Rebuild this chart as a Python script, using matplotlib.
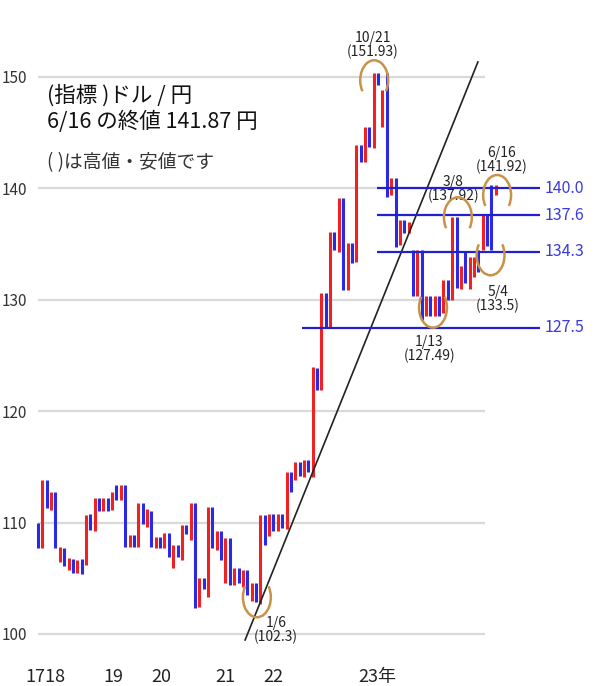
import matplotlib
matplotlib.use("Agg")
import matplotlib.pyplot as plt
from matplotlib.patches import Arc

plt.rcParams['font.family'] = ['Noto Sans CJK JP', 'DejaVu Sans']

# 新値足風のバー: 色 (r=陽, b=陰), 下端, 上端
bar_colors = ("brbrbrbrbrbrbrbrbrbrbrbrbrbrbrbrbrbrbrbrbrbrbrbrbrbrbrbrbrbrbrbrbrbrbrbrbrbrbrbrbrbrbrbrbrbrbrbrbrbrrbrb")
bar_lo = [107.7, 107.7, 111.3, 111.1, 107.7, 106.5, 106.1, 105.7, 105.5, 105.5,
          105.4, 106.2, 109.3, 109.2, 111.0, 111.0, 111.0, 111.1, 112.0, 112.0,
          107.8, 107.8, 107.8, 107.8, 109.9, 109.6, 107.8, 107.7, 107.7, 107.7,
          106.9, 105.9, 106.9, 106.6, 109.0, 108.4, 102.3, 102.4, 104.0, 103.3,
          107.7, 107.5, 106.6, 104.6, 104.4, 104.4, 104.6, 104.2, 103.5, 103.0,
          102.9, 102.7, 108.0, 108.8, 109.2, 109.2, 109.5, 109.4, 112.7, 113.8,
          114.2, 114.1, 114.5, 114.1, 121.9, 121.9, 127.5, 127.5, 134.5, 134.3,
          130.9, 130.9, 133.3, 133.4, 142.4, 142.4, 143.7, 143.6, 149.3, 145.5,
          139.2, 139.4, 134.7, 134.9, 136.0, 136.0, 130.3, 130.3, 128.2, 128.5,
          128.5, 128.5, 128.5, 128.8, 130.0, 130.0, 131.1, 131.0, 131.5, 131.0,
          132.0, 132.5, 134.5, 134.8, 134.5, 139.4]
bar_hi = [110.0, 113.8, 113.8, 112.7, 112.7, 107.8, 107.7, 106.8, 106.7, 106.6,
          106.7, 110.7, 110.8, 112.2, 112.2, 112.2, 112.2, 112.7, 113.4, 113.4,
          113.4, 108.9, 108.9, 111.8, 111.8, 111.2, 111.0, 108.7, 108.7, 109.1,
          109.1, 108.0, 108.0, 109.8, 109.8, 111.8, 111.8, 105.0, 105.0, 111.4,
          111.4, 109.2, 109.2, 108.6, 108.6, 105.9, 105.9, 105.7, 105.7, 104.6,
          104.6, 110.7, 110.7, 110.8, 110.8, 110.8, 110.8, 114.5, 114.5, 115.4,
          115.4, 115.6, 115.6, 124.0, 123.9, 130.6, 130.6, 136.1, 136.1, 139.1,
          139.1, 135.1, 135.1, 143.9, 143.9, 145.5, 145.5, 150.4, 150.4, 148.8,
          150.4, 140.9, 140.9, 137.2, 137.2, 137.0, 134.5, 134.5, 134.5, 130.3,
          130.3, 130.3, 130.3, 131.8, 131.8, 137.4, 137.4, 133.0, 134.4, 133.8,
          133.8, 134.5, 137.6, 137.6, 140.3, 140.3]

y_ticks = [100, 110, 120, 130, 140, 150]
year_labels = ["1718", "19", "20", "21", "22", "23年"]
year_pos = [1.8, 17.2, 28.2, 42.9, 53.9, 77.8]

# 水平線 (値, 開始位置)
level_values = [140.0, 137.6, 134.3, 127.5]
level_start = [77.8, 77.8, 77.8, 60.6]
level_end = 115.1

# トレンドライン
trend_x = [47.5, 100.9]
trend_y = [99.46, 151.35]

# 高値・安値の注記 (日付, 値, 位置)
note_dates = ["10/21", "3/8", "6/16", "5/4", "1/13", "1/6"]
note_vals = ["151.93", "137.92", "141.92", "133.5", "127.49", "102.3"]
note_x = [76.8, 95.2, 106.4, 105.5, 89.7, 54.6]
note_y = [152.9, 139.95, 142.55, 130.1, 125.6, 100.4]

# 丸印 (中心, 上向き/下向き)
arc_x = [77.1, 96.3, 105.3, 90.6, 103.8, 50.2]
arc_y = [149.7, 137.4, 139.4, 129.3, 134.0, 103.3]
arc_kind = ["top", "top", "top", "bottom", "bottom", "bottom"]

fig = plt.figure(figsize=(6.0, 6.86), dpi=100)
ax = fig.add_axes([38 / 600, 0, 562 / 600, 1])
ax.set_xlim(0, 562 / 4.36)
ax.set_ylim(95.33, 156.91)

grid_end = 102.5
ax.hlines(y_ticks, 0, grid_end, colors="#d9d9d9", linewidth=1.6, zorder=1)

xs = list(range(len(bar_lo)))
cols = ["#ee2222" if c == "r" else "#2a2ae6" for c in bar_colors[:len(bar_lo)]]
ax.vlines(xs, bar_lo, bar_hi, colors=cols, linewidth=2.2, zorder=3, clip_on=False)

ax.plot(trend_x, trend_y, color="#222222", linewidth=1.2, zorder=4)

for v, s in zip(level_values, level_start):
    ax.hlines(v, s, level_end, colors="#2020d0", linewidth=1.6, zorder=5)
    ax.text(level_end + 1.2, v, f"{v:.1f}", color="#3a3ae0", fontsize=11.5,
            va="center", ha="left")

for cx, cy, kind in zip(arc_x, arc_y, arc_kind):
    if kind == "top":
        t1, t2 = -20, 200
    else:
        t1, t2 = 160, 380
    ax.add_patch(Arc((cx, cy), 6.4, 3.6, theta1=t1, theta2=t2,
                     color="#c8924a", linewidth=1.8, zorder=6))

for d, v, nx, ny in zip(note_dates, note_vals, note_x, note_y):
    ax.text(nx, ny, d, ha="center", va="bottom", fontsize=10, color="#222222")
    ax.text(nx, ny, f"({v})", ha="center", va="top", fontsize=10, color="#222222")

ax.text(2.0, 148.3, "(指標 )ドル / 円", fontsize=15.5, color="#111111", va="center")
ax.text(2.0, 146.0, "6/16 の終値 141.87 円", fontsize=15.5, color="#111111", va="center")
ax.text(2.0, 142.3, "( )は高値・安値です", fontsize=13.5, color="#333333", va="center")

ax.set_yticks(y_ticks)
ax.set_yticklabels([str(t) for t in y_ticks], fontsize=11, color="#333333")
ax.tick_params(axis="y", length=0, pad=8)
ax.set_xticks([])
for yl, yp in zip(year_labels, year_pos):
    ax.text(yp, 96.14, yl, ha="center", va="center", fontsize=13, color="#222222")

for sp in ax.spines.values():
    sp.set_visible(False)

fig.savefig("out.png", dpi=100)
